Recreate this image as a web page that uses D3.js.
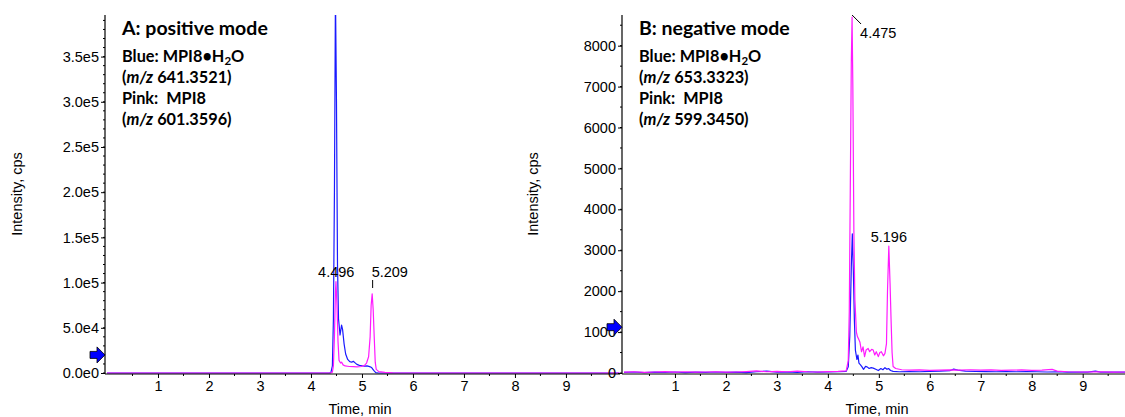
<!DOCTYPE html>
<html>
<head>
<meta charset="utf-8">
<script src="https://cdn.jsdelivr.net/npm/d3@7"></script>
<style>
  body { margin: 0; background: #fff; }
  svg { display: block; }
  .tick text { font-family: "Liberation Sans", Arial, sans-serif; font-size: 14.5px; fill: #000; }
  .axisTitle { font-family: "Liberation Sans", Arial, sans-serif; font-size: 14.5px; fill: #000; }
  .note { font-family: Lato, "Open Sans", sans-serif; font-weight: bold; fill: #000; white-space: pre; }
  .peakLabel { font-family: "Liberation Sans", Arial, sans-serif; font-size: 14.5px; fill: #000; }
</style>
</head>
<body>
<script>
//two extracted ion chromatograms side by side, time in minutes vs intensity in cps
(function (){

    //time ticks (same on both panels)
    var timeTicks = [1, 2, 3, 4, 5, 6, 7, 8, 9];
    var posTicks = [0, 50000, 100000, 150000, 200000, 250000, 300000, 350000];
    var posTickLabels = ["0.0e0", "5.0e4", "1.0e5", "1.5e5", "2.0e5", "2.5e5", "3.0e5", "3.5e5"];
    var negTicks = [0, 1000, 2000, 3000, 4000, 5000, 6000, 7000, 8000];
    var negTickLabels = ["0", "1000", "2000", "3000", "4000", "5000", "6000", "7000", "8000"];

    //positive mode, blue = m/z 641.3521, [time, intensity]
    var posBlue = [[0,0],[1,0],[2,0],[3,0],[4,0],[4.36,0],[4.39,500],[4.42,8000],[4.44,60000],
        [4.46,200000],[4.48,420000],[4.50,300000],[4.52,120000],[4.54,60000],[4.57,42000],
        [4.60,53000],[4.62,48000],[4.65,32000],[4.68,21000],[4.72,15000],[4.76,12500],[4.80,12000],
        [4.83,13000],[4.86,11500],[4.90,9500],[4.95,8500],[5.00,8000],[5.05,7500],[5.10,7800],
        [5.15,7000],[5.19,6000],[5.23,3000],[5.27,500],[5.32,0],[6,0],[8,0],[10.05,0]];

    //positive mode, pink = m/z 601.3596
    var posPink = [[0,0],[2,0],[4,0],[4.38,0],[4.42,1000],[4.44,8000],[4.46,40000],[4.48,90000],
        [4.49,101000],[4.51,75000],[4.53,35000],[4.55,14000],[4.58,11000],[4.60,12000],[4.63,9000],
        [4.67,7800],[4.75,7200],[4.83,7000],[4.90,6800],[4.99,7200],[5.05,8500],[5.09,11000],
        [5.13,18000],[5.16,40000],[5.18,75000],[5.20,87500],[5.22,70000],[5.24,40000],[5.26,12000],
        [5.28,4000],[5.33,1500],[5.45,600],[5.6,200],[5.8,0],[8,0],[10.05,0]];

    //negative mode, blue = m/z 653.3323
    var negBlue = [[0,15],[0.2,25],[0.4,10],[0.6,20],[0.8,15],[1.0,25],[1.2,10],[1.4,20],[1.6,15],
        [1.8,25],[2.0,15],[2.2,20],[2.4,10],[2.6,30],[2.8,45],[3.0,20],[3.2,25],[3.4,15],[3.6,30],
        [3.8,20],[4.0,25],[4.2,30],[4.36,40],[4.40,150],[4.43,900],[4.46,2600],[4.48,3400],
        [4.50,2500],[4.52,1300],[4.54,560],[4.57,330],[4.59,440],[4.61,240],[4.64,200],[4.67,150],
        [4.70,90],[4.74,160],[4.77,150],[4.81,110],[4.85,130],[4.89,120],[4.94,90],[4.99,60],
        [5.04,110],[5.08,80],[5.12,130],[5.16,90],[5.19,110],[5.23,60],[5.28,40],[5.4,30],[5.6,35],
        [5.8,30],[6.0,40],[6.2,45],[6.4,60],[6.47,95],[6.55,70],[6.7,45],[6.9,40],[7.1,35],[7.3,30],
        [7.5,35],[7.7,30],[7.9,35],[8.1,30],[8.3,25],[8.5,30],[8.7,20],[8.9,25],[9.1,20],[9.25,45],
        [9.35,20],[9.6,25],[9.83,20]];

    //negative mode, pink = m/z 599.3450
    var negPink = [[0,20],[0.2,30],[0.4,15],[0.6,25],[0.8,35],[1.0,20],[1.2,30],[1.4,20],[1.6,25],
        [1.8,30],[2.0,20],[2.2,25],[2.4,35],[2.6,50],[2.8,30],[3.0,40],[3.2,30],[3.4,45],[3.6,30],
        [3.8,25],[4.0,35],[4.2,40],[4.36,50],[4.40,300],[4.42,1500],[4.44,4500],[4.46,7600],
        [4.475,8700],[4.49,7000],[4.51,3500],[4.53,1800],[4.56,1000],[4.58,890],[4.61,810],[4.63,750],
        [4.66,520],[4.69,640],[4.72,400],[4.75,560],[4.79,600],[4.82,520],[4.86,580],[4.89,560],
        [4.92,440],[4.95,520],[4.99,400],[5.02,500],[5.05,520],[5.09,420],[5.12,480],[5.15,720],
        [5.17,2000],[5.196,3100],[5.22,2200],[5.24,1300],[5.26,500],[5.28,160],[5.33,110],[5.45,80],
        [5.6,70],[5.8,75],[6.0,65],[6.2,70],[6.4,75],[6.6,70],[6.8,80],[7.0,70],[7.2,75],[7.4,65],
        [7.6,70],[7.8,75],[8.0,65],[8.2,70],[8.4,90],[8.5,45],[8.7,30],[9.0,25],[9.3,30],[9.6,20],
        [9.83,25]];

    //text blocks
    var posNote = ["A: positive mode", "641.3521", "601.3596"];
    var negNote = ["B: negative mode", "653.3323", "599.3450"];

    var width = 1125, height = 417;

    var svg = d3.select("body")
        .append("svg")
        .attr("width", width)
        .attr("height", height);

    //panel A
    drawPanel({
        id: "A",
        left: 107, right: 620,
        xDomain: [0, 10.06],
        yMax: 396000,
        yTicks: posTicks, yLabels: posTickLabels, yMinor: 10000,
        series: [posBlue, posPink],
        note: posNote,
        arrowAt: 20000,
        titleX: 17
    });

    //panel B
    drawPanel({
        id: "B",
        left: 624, right: 1125,
        xDomain: [0, 9.83],
        yMax: 8750,
        yTicks: negTicks, yLabels: negTickLabels, yMinor: 500,
        series: [negBlue, negPink],
        note: negNote,
        arrowAt: 1120,
        titleX: 533
    });

    function drawPanel(p){
        var top = 15, bottom = 373;

        var x = d3.scaleLinear().domain(p.xDomain).range([p.left, p.right]);
        var y = d3.scaleLinear().domain([0, p.yMax]).range([bottom, top]);
        var axisX = p.left - 2;

        var g = svg.append("g").attr("class", "panel" + p.id);

        //clip so the tall peak is cut at the frame top
        svg.append("clipPath").attr("id", "clip" + p.id)
            .append("rect")
            .attr("x", axisX).attr("y", top)
            .attr("width", p.right - axisX).attr("height", bottom - top + 2);

        //traces, blue first then pink on top
        var line = d3.line()
            .x(function(d){ return x(d[0]); })
            .y(function(d){ return y(d[1]); });

        var colors = ["#1a1aff", "#ff1aff"];
        g.append("g")
            .attr("clip-path", "url(#clip" + p.id + ")")
            .selectAll(".trace")
            .data(p.series)
            .enter()
            .append("path")
            .attr("class", "trace")
            .attr("d", line)
            .attr("fill", "none")
            .attr("stroke", function(d, i){ return colors[i]; })
            .attr("stroke-width", 1.2)
            .attr("stroke-linejoin", "round");

        //x axis: major ticks every min, minor every half min
        var xMinor = d3.range(0.5, p.xDomain[1], 0.5).filter(function(v){ return v % 1 !== 0; });
        var xAxis = g.append("g")
            .attr("transform", "translate(0," + (bottom + 1) + ")")
            .call(d3.axisBottom(x).tickValues(timeTicks).tickSize(4).tickPadding(3).tickFormat(d3.format("d")));
        xAxis.select(".domain").remove();
        xAxis.selectAll("line").attr("stroke", "#000");
        g.append("g").selectAll(".xMinor")
            .data(xMinor)
            .enter()
            .append("line")
            .attr("x1", function(d){ return x(d); })
            .attr("x2", function(d){ return x(d); })
            .attr("y1", bottom + 1).attr("y2", bottom + 3)
            .attr("stroke", "#000");
        g.append("line")
            .attr("x1", axisX).attr("x2", p.right)
            .attr("y1", bottom + 1).attr("y2", bottom + 1)
            .attr("stroke", "#000").attr("stroke-width", 1.2);

        //y axis
        var yAxis = g.append("g")
            .attr("transform", "translate(" + axisX + ",0)")
            .call(d3.axisLeft(y).tickValues(p.yTicks).tickSize(4).tickPadding(2)
                .tickFormat(function(d, i){ return p.yLabels[i]; }));
        yAxis.select(".domain").remove();
        yAxis.selectAll("line").attr("stroke", "#000");
        g.append("g").selectAll(".yMinor")
            .data(d3.range(0, p.yMax, p.yMinor))
            .enter()
            .append("line")
            .attr("x1", axisX - 2).attr("x2", axisX)
            .attr("y1", function(d){ return y(d); })
            .attr("y2", function(d){ return y(d); })
            .attr("stroke", "#000");
        g.append("line")
            .attr("x1", axisX).attr("x2", axisX)
            .attr("y1", top).attr("y2", bottom + 1)
            .attr("stroke", "#000").attr("stroke-width", 1.2);

        //axis titles
        g.append("text")
            .attr("class", "axisTitle")
            .attr("x", (p.left + 51 * 5) - 2)
            .attr("y", 414)
            .attr("text-anchor", "middle")
            .text("Time, min");
        g.append("text")
            .attr("class", "axisTitle")
            .attr("transform", "translate(" + (p.titleX + 5) + ",194) rotate(-90)")
            .attr("text-anchor", "middle")
            .text("Intensity, cps");

        //threshold arrow on the y axis
        var ay = y(p.arrowAt);
        g.append("path")
            .attr("d", "M" + (axisX - 15) + "," + (ay - 3.5) + "h7v-4.5l8,8l-8,8v-4.5h-7z")
            .attr("fill", "#0000ff")
            .attr("stroke", "#000")
            .attr("stroke-width", 0.8);

        //legend text block
        var nx = axisX + 17;
        var note = g.append("g");
        note.append("text").attr("class", "note")
            .attr("x", nx).attr("y", 35).style("font-size", "19.5px")
            .text(p.note[0]);
        var blue = note.append("text").attr("class", "note")
            .attr("x", nx).attr("y", 62).style("font-size", "16.3px");
        blue.append("tspan").text("Blue: MPI8\u2022H");
        blue.append("tspan").attr("dy", 3).style("font-size", "11.5px").text("2");
        blue.append("tspan").attr("dy", -3).text("O");
        var mz1 = note.append("text").attr("class", "note")
            .attr("x", nx).attr("y", 83).style("font-size", "16.3px");
        mz1.append("tspan").text("(");
        mz1.append("tspan").style("font-style", "italic").text("m/z");
        mz1.append("tspan").text(" " + p.note[1] + ")");
        note.append("text").attr("class", "note")
            .attr("x", nx).attr("y", 104).style("font-size", "16.3px")
            .text("Pink:  MPI8");
        var mz2 = note.append("text").attr("class", "note")
            .attr("x", nx).attr("y", 125).style("font-size", "16.3px");
        mz2.append("tspan").text("(");
        mz2.append("tspan").style("font-style", "italic").text("m/z");
        mz2.append("tspan").text(" " + p.note[2] + ")");

        //peak labels
        if (p.id === "A"){
            g.append("text").attr("class", "peakLabel")
                .attr("x", x(4.496)).attr("y", 277)
                .attr("text-anchor", "middle").text("4.496");
            g.append("line")
                .attr("x1", x(5.209)).attr("x2", x(5.209))
                .attr("y1", 280).attr("y2", 288)
                .attr("stroke", "#000");
            g.append("text").attr("class", "peakLabel")
                .attr("x", x(5.209) - 1).attr("y", 277)
                .text("5.209");
        } else {
            g.append("line")
                .attr("x1", x(4.475)).attr("y1", top)
                .attr("x2", x(4.475) + 9).attr("y2", top + 9)
                .attr("stroke", "#000");
            g.append("text").attr("class", "peakLabel")
                .attr("x", x(4.475) + 8).attr("y", 38)
                .text("4.475");
            g.append("text").attr("class", "peakLabel")
                .attr("x", x(5.196)).attr("y", 242)
                .attr("text-anchor", "middle").text("5.196");
        }
    }

})();
</script>
</body>
</html>
